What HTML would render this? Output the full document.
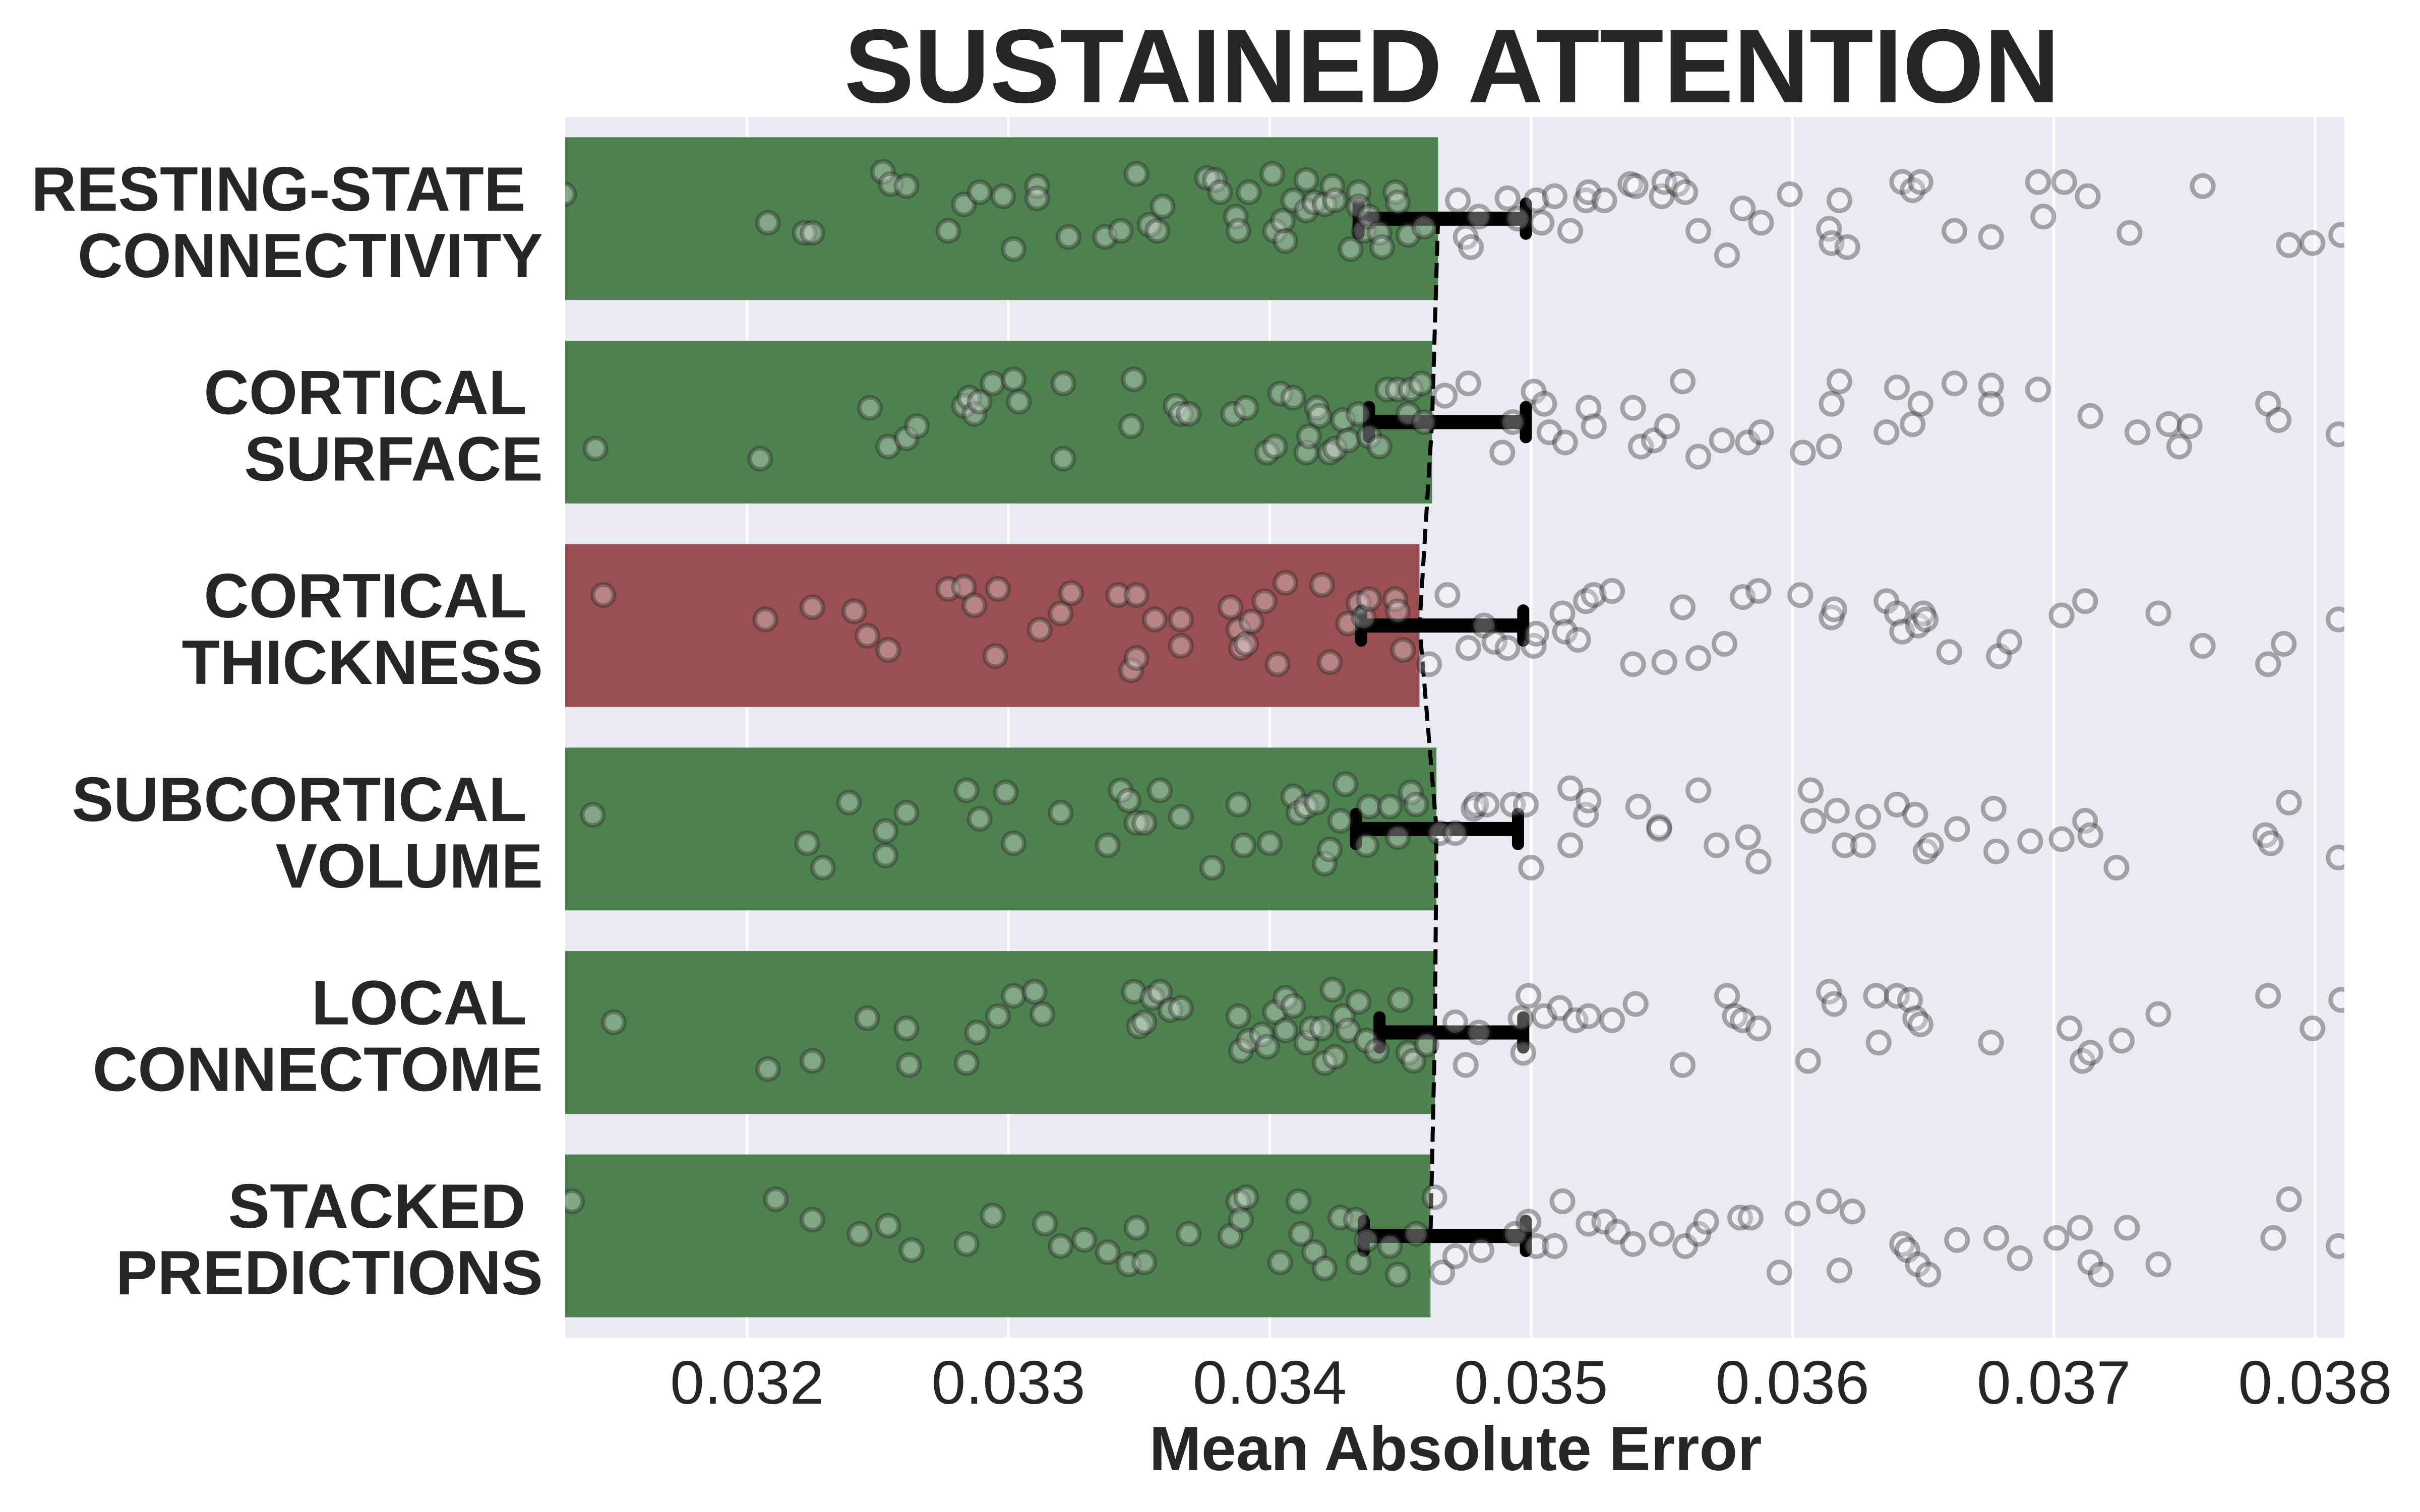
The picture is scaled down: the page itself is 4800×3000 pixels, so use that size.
<!DOCTYPE html>
<html><head><meta charset="utf-8"><style>
html,body{margin:0;padding:0;background:#fff;}
svg{display:block;font-family:"Liberation Sans",Arial,sans-serif;}
</style></head><body>
<svg id="chart" xmlns="http://www.w3.org/2000/svg" width="4800" height="3000" viewBox="0 0 4800 3000"></svg>
<script>
// ---- data ----
const categories = [["RESTING-STATE ","CONNECTIVITY"],["CORTICAL ","SURFACE"],["CORTICAL ","THICKNESS"],["SUBCORTICAL ","VOLUME"],["LOCAL ","CONNECTOME"],["STACKED ","PREDICTIONS"]];
const meanMAE = [0.034644,0.034621,0.034573,0.034638,0.034632,0.034615];
const errLow  = [0.03434,0.03438,0.03435,0.03433,0.03442,0.03436];
const errHigh = [0.03498,0.03498,0.03497,0.03495,0.03497,0.03498];
const barColors = ["#4d824f","#4d824f","#9a5052","#4d824f","#4d824f","#4d824f"];
const xTicks = [0.032,0.033,0.034,0.035,0.036,0.037,0.038];
const xTickLabels = ["0.032","0.033","0.034","0.035","0.036","0.037","0.038"];
// fold MAE values (x1000) per category
const fold0 = [31.30,32.08,32.22,32.25,32.52,32.55,32.61,32.77,32.83,32.89,32.98,33.02,33.11,33.11,33.23,33.37,33.43,33.49,33.54,33.57,33.59,33.76,33.79,33.81,33.87,33.88,33.92,34.01,34.02,34.05,34.06,34.09,34.14,34.14,34.17,34.21,34.24,34.25,34.31,34.34,34.34,34.36,34.38,34.42,34.43,34.48,34.49,34.53,34.59,34.72,34.75,34.77,34.80,34.91,34.95,35.02,35.04,35.09,35.15,35.21,35.22,35.28,35.38,35.40,35.50,35.51,35.56,35.59,35.64,35.75,35.81,35.88,35.99,36.14,36.15,36.18,36.21,36.42,36.46,36.49,36.62,36.76,36.94,36.96,37.04,37.13,37.29,37.57,37.90,37.99,38.10];
const jitter0 = [-0.12,0.02,0.07,0.07,-0.23,-0.17,-0.16,0.06,-0.07,-0.13,-0.11,0.15,-0.16,-0.10,0.09,0.09,0.06,-0.22,0.03,0.06,-0.06,-0.20,-0.19,-0.13,-0.01,0.06,-0.13,-0.22,0.06,0.01,0.11,-0.09,-0.19,-0.04,-0.08,-0.07,-0.16,-0.09,0.15,-0.13,-0.06,0.06,-0.01,0.07,0.14,-0.13,-0.08,0.08,0.04,-0.09,0.09,0.14,-0.01,-0.10,0.00,-0.09,0.02,-0.11,0.06,-0.09,-0.13,-0.09,-0.17,-0.16,-0.11,-0.18,-0.17,-0.13,0.06,0.18,-0.05,0.02,-0.12,0.05,0.12,-0.09,0.14,-0.18,-0.14,-0.18,0.06,0.09,-0.18,-0.01,-0.18,-0.11,0.07,-0.16,0.13,0.12,0.08];
const fold1 = [31.42,32.05,32.47,32.54,32.61,32.65,32.83,32.85,32.87,32.89,32.94,33.02,33.04,33.21,33.21,33.47,33.48,33.64,33.66,33.69,33.86,33.91,33.99,34.02,34.04,34.09,34.14,34.15,34.18,34.19,34.23,34.25,34.28,34.30,34.34,34.38,34.42,34.45,34.49,34.53,34.54,34.58,34.59,34.67,34.76,34.89,34.93,35.01,35.05,35.07,35.13,35.22,35.24,35.39,35.42,35.47,35.52,35.58,35.64,35.73,35.83,35.88,36.04,36.14,36.15,36.18,36.36,36.40,36.46,36.49,36.62,36.76,36.76,36.94,37.14,37.32,37.44,37.48,37.52,37.82,37.86,38.09];
const jitter1 = [0.13,0.18,-0.07,0.12,0.08,0.02,-0.08,-0.12,-0.04,-0.10,-0.19,-0.21,-0.10,-0.19,0.18,0.02,-0.21,-0.08,-0.04,-0.04,-0.04,-0.07,0.15,0.12,-0.14,-0.12,0.15,0.07,-0.07,-0.03,0.15,0.13,-0.01,0.09,-0.04,0.07,0.12,-0.16,-0.16,-0.04,-0.16,-0.19,0.00,-0.13,-0.19,0.15,0.00,-0.15,-0.09,0.05,0.10,-0.07,0.02,-0.07,0.12,0.09,0.02,-0.20,0.17,0.09,0.10,0.05,0.15,0.12,-0.09,-0.20,0.05,-0.17,0.01,-0.09,-0.19,-0.18,-0.09,-0.16,-0.03,0.05,0.01,0.12,0.02,-0.09,-0.01,0.06];
const fold2 = [31.45,32.07,32.25,32.41,32.46,32.54,32.77,32.83,32.87,32.96,32.95,33.12,33.20,33.24,33.42,33.47,33.49,33.49,33.56,33.66,33.66,33.85,33.88,33.89,33.91,33.93,33.98,34.03,34.06,34.20,34.23,34.30,34.34,34.36,34.38,34.48,34.49,34.51,34.61,34.68,34.76,34.82,34.86,34.91,35.01,35.02,35.12,35.13,35.18,35.21,35.24,35.31,35.39,35.51,35.58,35.64,35.74,35.81,35.87,36.03,36.15,36.16,36.36,36.40,36.42,36.48,36.50,36.51,36.60,36.79,36.83,37.03,37.12,37.40,37.57,37.82,37.88,38.09];
const jitter2 = [-0.15,-0.03,-0.09,-0.07,0.05,0.12,-0.18,-0.19,-0.10,-0.18,0.15,0.02,-0.06,-0.16,-0.15,0.22,0.16,-0.15,-0.03,-0.03,0.10,-0.09,0.02,0.11,0.09,-0.02,-0.12,0.19,-0.21,-0.20,0.18,-0.01,-0.11,-0.04,-0.13,-0.13,-0.07,0.12,0.19,-0.15,0.11,0.00,0.08,0.11,0.10,0.04,-0.06,0.03,0.07,-0.12,-0.15,-0.17,0.19,0.18,-0.09,0.16,0.09,-0.14,-0.17,-0.15,-0.04,-0.08,-0.12,-0.06,0.03,0.00,-0.06,-0.03,0.13,0.15,0.08,-0.05,-0.12,-0.06,0.10,0.19,0.09,-0.03];
const fold3 = [31.41,32.23,32.29,32.39,32.53,32.53,32.61,32.84,32.89,32.99,33.02,33.20,33.38,33.43,33.46,33.49,33.52,33.58,33.66,33.78,33.88,33.90,34.00,34.09,34.11,34.14,34.18,34.21,34.23,34.27,34.29,34.38,34.37,34.46,34.49,34.54,34.56,34.65,34.71,34.78,34.79,34.83,34.93,34.98,35.00,35.15,35.15,35.21,35.22,35.41,35.49,35.49,35.64,35.71,35.83,35.87,36.07,36.08,36.17,36.20,36.27,36.29,36.40,36.47,36.51,36.53,36.63,36.77,36.78,36.91,37.03,37.12,37.14,37.24,37.81,37.83,37.90,38.09];
const jitter3 = [-0.07,0.07,0.19,-0.13,0.01,0.13,-0.08,-0.19,-0.05,-0.18,0.07,-0.08,0.08,-0.19,-0.14,-0.03,-0.03,-0.19,-0.06,0.19,-0.12,0.08,0.07,-0.16,-0.08,-0.11,-0.13,0.17,0.10,-0.04,-0.22,-0.11,0.08,-0.11,0.04,-0.18,-0.12,0.02,0.02,-0.10,-0.12,-0.12,-0.12,-0.12,0.19,0.08,-0.20,-0.07,-0.14,-0.11,-0.01,0.00,-0.19,0.08,0.04,0.16,-0.19,-0.04,-0.09,0.08,0.08,-0.06,-0.12,-0.07,0.11,0.08,0.00,-0.10,0.11,0.06,0.05,-0.04,0.03,0.19,0.03,0.07,-0.13,0.14];
const fold4 = [31.49,32.08,32.25,32.46,32.61,32.62,32.84,32.88,32.96,33.02,33.10,33.13,33.48,33.50,33.52,33.55,33.58,33.62,33.66,33.88,33.89,33.92,33.97,33.99,34.02,34.06,34.06,34.09,34.14,34.16,34.20,34.21,34.24,34.25,34.28,34.30,34.34,34.37,34.41,34.50,34.53,34.55,34.60,34.71,34.75,34.80,34.96,34.97,34.99,35.05,35.11,35.17,35.22,35.31,35.40,35.58,35.75,35.78,35.81,35.87,36.06,36.14,36.16,36.32,36.33,36.40,36.45,36.47,36.49,36.76,37.06,37.11,37.14,37.26,37.40,37.82,37.99,38.10];
const jitter4 = [-0.05,0.18,0.14,-0.07,-0.02,0.16,0.15,0.00,-0.08,-0.18,-0.20,-0.09,-0.20,-0.03,-0.05,-0.17,-0.20,-0.11,-0.12,-0.08,0.09,0.04,0.01,0.07,-0.10,-0.17,-0.01,-0.13,0.05,-0.02,-0.02,0.15,-0.21,0.12,-0.08,-0.01,-0.15,0.04,0.09,-0.16,0.10,0.14,0.06,-0.05,0.16,0.00,-0.07,0.10,-0.18,-0.08,-0.12,-0.06,-0.08,-0.06,-0.14,0.16,-0.18,-0.08,-0.06,-0.02,0.14,-0.20,-0.14,-0.18,0.05,-0.18,-0.16,-0.07,-0.04,0.05,-0.02,0.14,0.10,0.04,-0.09,-0.18,-0.02,-0.16];
const fold5 = [31.33,32.11,32.25,32.43,32.54,32.63,32.84,32.94,33.14,33.20,33.29,33.38,33.46,33.49,33.52,33.69,33.85,33.88,33.89,33.91,34.04,34.11,34.12,34.17,34.21,34.27,34.33,34.34,34.37,34.46,34.49,34.56,34.63,34.66,34.71,34.81,34.94,34.99,35.02,35.09,35.12,35.22,35.28,35.33,35.39,35.50,35.59,35.64,35.67,35.80,35.84,35.95,36.02,36.14,36.18,36.23,36.42,36.44,36.48,36.52,36.63,36.78,36.87,37.01,37.10,37.14,37.18,37.28,37.40,37.84,37.90,38.09];
const jitter5 = [-0.17,-0.18,-0.08,-0.01,-0.05,0.07,0.04,-0.10,-0.06,0.05,0.02,0.08,0.14,-0.04,0.13,-0.01,0.00,-0.17,-0.08,-0.19,0.13,-0.17,-0.01,0.08,0.16,-0.09,-0.08,0.13,0.02,0.05,0.19,-0.01,-0.19,0.18,0.10,0.07,-0.01,-0.07,0.05,0.05,-0.17,-0.06,-0.07,-0.02,0.04,-0.01,0.05,-0.01,-0.07,-0.09,-0.09,0.18,-0.11,-0.17,0.17,-0.12,0.04,0.07,0.14,0.19,0.02,0.01,0.11,0.01,-0.04,0.13,0.19,-0.04,0.14,0.01,-0.18,0.05];
const folds = [fold0,fold1,fold2,fold3,fold4,fold5];
const jitters = [jitter0,jitter1,jitter2,jitter3,jitter4,jitter5];

// ---- layout ----
const NS = "http://www.w3.org/2000/svg";
const svg = document.getElementById('chart');
const L = 1121, R = 4650, T = 232, B = 2654;
const xMin = 0.031304, xMax = 0.038112;
const band = (B - T) / categories.length;
function xScale(v){ return L + (v - xMin) / (xMax - xMin) * (R - L); }
function yCenter(i){ return T + band * (i + 0.5); }
function mk(tag, attrs, parent){
  const e = document.createElementNS(NS, tag);
  for (const k in attrs) e.setAttribute(k, attrs[k]);
  (parent || svg).appendChild(e);
  return e;
}

const title = mk('text', {x:2880, y:203, 'text-anchor':'middle', 'font-size':208, 'font-weight':'bold', fill:'#262626'});


title.textContent = 'SUSTAINED ATTENTION';

const bg = mk('rect', {x:L, y:T, width:R-L, height:B-T, fill:'#eaeaf2'});



// gridlines + tick labels
xTicks.forEach((t, k) => {
  const gx = xScale(t);
  const g = mk('line', {x1:gx, x2:gx, y1:T, y2:B, stroke:'#ffffff', 'stroke-width':5});
  
  
  const lab = mk('text', {x:gx, y:2785, 'text-anchor':'middle', 'font-size':122, fill:'#262626'});
  
  
  lab.textContent = xTickLabels[k];
});

const clip = mk('clipPath', {id:'plotclip'});
mk('rect', {x:L, y:T, width:R-L, height:B-T}, clip);

const plotG = mk('g', {'clip-path':'url(#plotclip)'});



// bars
const barH = band * 0.8;
meanMAE.forEach((m, i) => {
  const b = mk('rect', {x:L, y:yCenter(i)-barH/2, width:xScale(m)-L, height:barH, fill:barColors[i]}, plotG);
  
  
});
// error bars
meanMAE.forEach((m, i) => {
  const yc = yCenter(i);
  const eg = mk('g', {stroke:'#000', 'stroke-linecap':'round'}, plotG);
  
  
  mk('line', {x1:xScale(errLow[i]), x2:xScale(errHigh[i]), y1:yc, y2:yc, 'stroke-width':28, 'stroke-linecap':'butt'}, eg);
  mk('line', {x1:xScale(errLow[i]), x2:xScale(errLow[i]), y1:yc-30, y2:yc+30, 'stroke-width':24}, eg);
  mk('line', {x1:xScale(errHigh[i]), x2:xScale(errHigh[i]), y1:yc-30, y2:yc+30, 'stroke-width':24}, eg);
});
// dashed mean line
const pts = meanMAE.map((m, i) => xScale(m) + ',' + yCenter(i)).join(' ');
const dl = mk('polyline', {points:pts, fill:'none', stroke:'#000', 'stroke-width':8, 'stroke-dasharray':'30 14'}, plotG);


// fold points
folds.forEach((arr, i) => {
  const jit = jitters[i];
  const n = Math.min(arr.length, jit.length);
  for (let k = 0; k < n; k++) {
    const c = mk('circle', {cx:xScale(arr[k]/1000), cy:yCenter(i) + jit[k]*band, r:21, fill:'rgba(255,255,255,0.3)', stroke:'rgba(40,40,40,0.38)', 'stroke-width':9}, plotG);
    
    
  }
});

// y labels
categories.forEach((lines, i) => {
  const yc = yCenter(i);
  lines.forEach((s, j) => {
    const t = mk('text', {x:1077, y:yc - 16 + j*132, 'text-anchor':'end', 'font-size':124, 'font-weight':'bold', fill:'#262626'});
    
    
    t.setAttribute('xml:space', 'preserve');
    t.style.whiteSpace = 'pre';
    t.textContent = s;
  });
});

const xt = mk('text', {x:2887, y:2917, 'text-anchor':'middle', 'font-size':124, 'font-weight':'bold', fill:'#262626'});


xt.textContent = 'Mean Absolute Error';
</script>
</body></html>
